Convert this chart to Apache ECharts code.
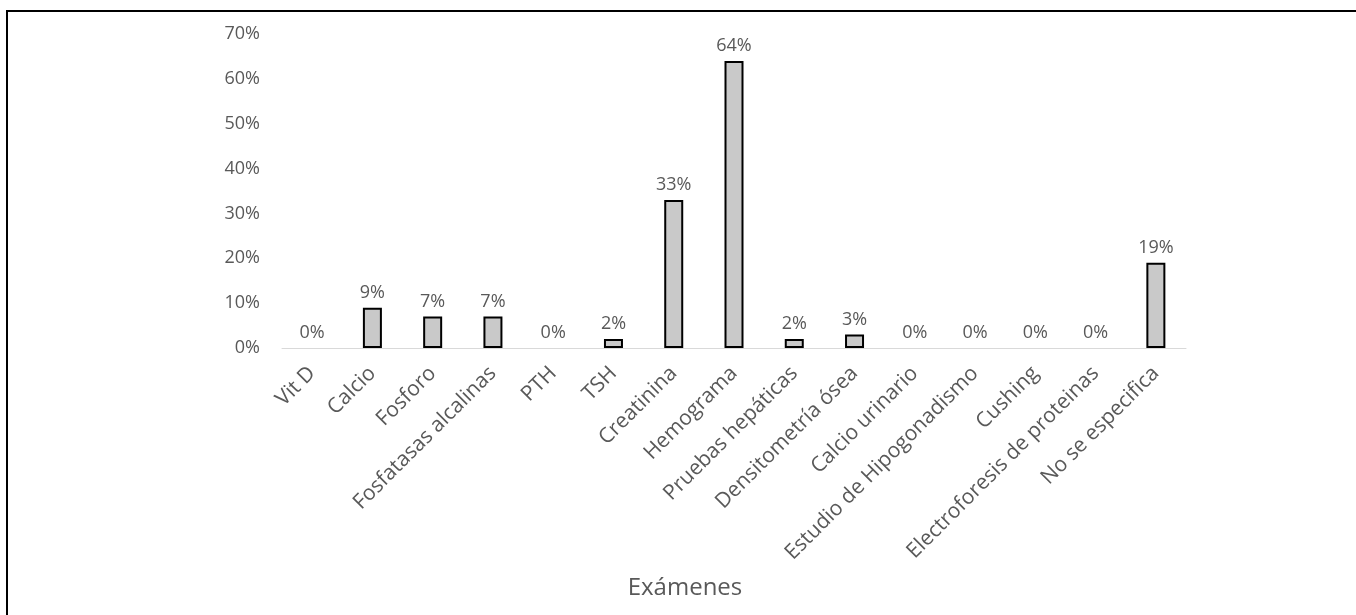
<!DOCTYPE html>
<html>
<head>
<meta charset="utf-8">
<script src="https://cdn.jsdelivr.net/npm/echarts@6/dist/echarts.min.js"></script>
<style>
  html, body { margin: 0; padding: 0; background: #ffffff; }
  #chart { width: 1356px; height: 615px; }
</style>
</head>
<body>
<div id="chart"></div>
<script>
// Exámenes solicitados (% de casos)
const categories = [
  'Vit D', 'Calcio', 'Fosforo', 'Fosfatasas alcalinas', 'PTH', 'TSH',
  'Creatinina', 'Hemograma', 'Pruebas hepáticas', 'Densitometría ósea',
  'Calcio urinario', 'Estudio de Hipogonadismo', 'Cushing',
  'Electroforesis de proteinas', 'No se especifica'
];
const percentages = [0, 9, 7, 7, 0, 2, 33, 64, 2, 3, 0, 0, 0, 0, 19];
const yTicks = [0, 10, 20, 30, 40, 50, 60, 70];
const axisTitle = 'Exámenes';

const FONT = '"Open Sans", "Liberation Sans", sans-serif';
const TEXT = '#595959';

const chart = echarts.init(document.getElementById('chart'), null, { renderer: 'canvas' });

chart.setOption({
  animation: false,
  backgroundColor: '#ffffff',
  textStyle: { fontFamily: FONT },
  grid: { left: 282, right: 170, top: 34, bottom: 267, containLabel: false },
  xAxis: {
    type: 'category',
    data: categories,
    axisLine: { show: true, lineStyle: { color: '#d9d9d9', width: 1 } },
    axisTick: { show: false },
    axisLabel: {
      rotate: 45,
      interval: 0,
      margin: 22,
      color: TEXT,
      fontSize: 21,
      fontFamily: FONT
    }
  },
  yAxis: {
    type: 'value',
    min: yTicks[0],
    max: yTicks[yTicks.length - 1],
    interval: yTicks[1] - yTicks[0],
    axisLine: { show: false },
    axisTick: { show: false },
    splitLine: { show: false },
    axisLabel: {
      margin: 22,
      color: TEXT,
      fontSize: 18,
      fontFamily: FONT,
      formatter: '{value}%'
    }
  },
  series: [{
    type: 'bar',
    barWidth: 19,
    data: percentages.map(v => ({
      value: v,
      itemStyle: v === 0 ? { borderWidth: 0, color: 'transparent' } : undefined
    })),
    itemStyle: { color: '#c9c9c9', borderColor: '#000000', borderWidth: 2 },
    label: {
      show: true,
      position: 'top',
      distance: 6,
      color: TEXT,
      fontSize: 18,
      fontFamily: FONT,
      formatter: p => p.value + '%'
    }
  }],
  graphic: [
    {
      type: 'text',
      x: 685, y: 588,
      style: {
        text: axisTitle,
        fill: TEXT,
        font: '24px ' + FONT,
        textAlign: 'center',
        textVerticalAlign: 'middle'
      }
    },
    {
      type: 'rect',
      shape: { x: 7, y: 11, width: 2000, height: 2000 },
      style: { fill: 'none', stroke: '#000000', lineWidth: 2 },
      silent: true
    }
  ]
});
</script>
</body>
</html>
